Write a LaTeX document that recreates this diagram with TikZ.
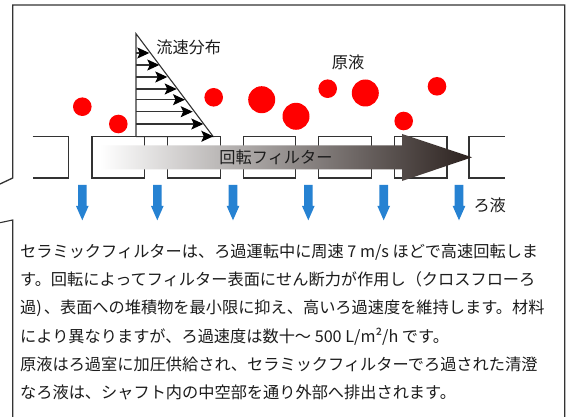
\documentclass[tikz,border=0pt]{standalone}
\usepackage{fontspec}
\setmainfont{Noto Sans CJK JP}
\usetikzlibrary{arrows.meta}
\definecolor{frameC}{HTML}{333333}
\definecolor{blueC}{HTML}{2682D2}
\definecolor{darkC}{HTML}{2B211E}
\definecolor{txtC}{HTML}{1C1C1C}
\tikzset{
  frameline/.style={draw=frameC,line width=1.1pt},
  cellline/.style={draw=frameC,line width=1.1pt},
  drop/.style={circle,fill=red,draw=none,inner sep=0pt,minimum size=#1},
  flowarrow/.style={draw=frameC,line width=1.1pt,-{Stealth[length=12pt,width=11pt,inset=2.5pt,black]}},
  label/.style={font=\fontsize{16.2}{16.2}\selectfont,text=txtC,inner sep=0pt},
  bodyline/.style={font=\fontsize{16.2}{16.2}\selectfont,text=txtC,inner sep=0pt,anchor=base west},
  drain/.style={fill=blueC,draw=none},
}
\begin{document}
\begin{tikzpicture}[x=1pt,y=-1pt]
\useasboundingbox (0,0) rectangle (574,417);
\fill[white] (0,0) rectangle (574,417);
% outer frame
\draw[frameline,line width=1.3pt] (0,184) -- (12.7,178) -- (12.7,5) -- (564.7,5) -- (564.7,417);
\draw[frameline] (0,222.7) -- (12.7,220) -- (12.7,417);
% filter cells
\draw[cellline] (32.7,136.7) -- (68.3,136.7) -- (68.3,178) -- (32.7,178);
\foreach \a/\b in {92/144.7,167.7/220.3,243.3/295.7,318.7/371.3,394.3/447}
  \draw[cellline] (\a,136.7) rectangle (\b,178);
\draw[cellline] (504.7,136.7) -- (469,136.7) -- (469,178) -- (504.7,178);
% drops
\foreach \n/\x/\y/\d in {a/82.3/106.7/18.6,b/118.3/124/18.6,c/213.7/97.3/18.6,d/261.7/99.7/27,e/296/116.3/27,f/327.7/88.7/18.6,g/365.3/93/27,h/403.7/121/18.6,i/437/86.3/18.6}
  \node[drop=\d pt] (drop\n) at (\x,\y) {};
% velocity profile
\coordinate (apex) at (136,33.7);
\coordinate (foot) at (136,136.7);
\coordinate (edge) at (213.3,136.7);
\draw[frameline] (foot) -- (apex) -- (edge) -- (foot);
\foreach \k/\y/\t in {1/53/149.3,2/65/159.3,3/77/167.3,4/89/176.7,5/99.7/185,6/111.7/192.7,7/124/203.3,8/136.3/213.3}{
  \coordinate (vs\k) at (136,\y);
  \coordinate (ve\k) at (\t,\y);
  \draw[flowarrow] (vs\k) -- (ve\k);
}
% shaft arrow
\shade[left color=white,middle color=black!42,right color=darkC]
  (100,145.3) -- (402,145.3) -- (402,134) -- (472,157.3) -- (402,181) -- (402,169.3) -- (100,169.3) -- cycle;
% drains
\foreach \x in {82.3,157.3,233,308.3,383.7,459}
  \fill[drain] (\x-4.3,185) -- (\x+4.3,185) -- (\x+4.3,206) -- (\x+6.3,206) -- (\x,220.3) -- (\x-6.3,206) -- (\x-4.3,206) -- cycle;
% labels
\node[label] (flow) at (188.7,47.3) {流速分布};
\node[label] (feed) at (348,62.3) {原液};
\node[label] (filtrate) at (489.7,205) {ろ液};
\node[label] (filter) at (276,157) {回転フィルター};
% body
\node[bodyline] (l1) at (20,257.5) {セラミックフィルターは、ろ過運転中に周速 7 m/s ほどで高速回転しま};
\node[bodyline] (l2) at (20,285.5) {す。回転によってフィルター表面にせん断力が作用し（クロスフローろ};
\node[bodyline] (l3) at (20,313.5) {過)\hspace{2pt}、表面への堆積物を最小限に抑え、高いろ過速度を維持します。材料};
\node[bodyline] (l4) at (20,342.5) {により異なりますが、ろ過速度は数十〜 500 L/m²/h です。};
\node[bodyline] (l5) at (20,370.5) {原液はろ過室に加圧供給され、セラミックフィルターでろ過された清澄};
\node[bodyline] (l6) at (20,398.5) {なろ液は、シャフト内の中空部を通り外部へ排出されます。};
\end{tikzpicture}
\end{document}
